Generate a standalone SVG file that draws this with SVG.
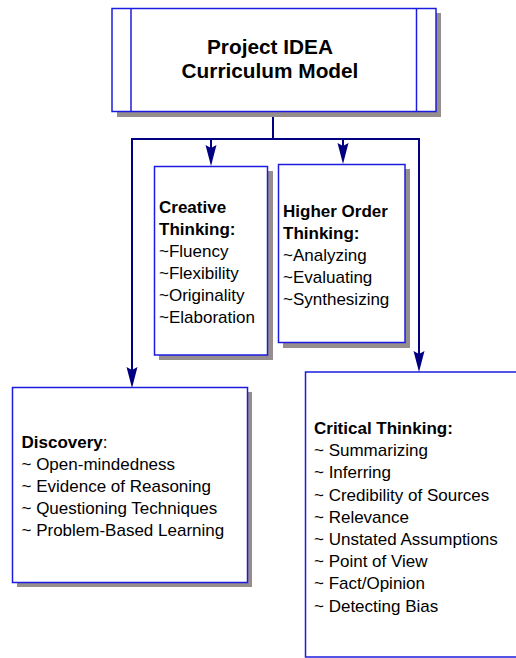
<svg xmlns="http://www.w3.org/2000/svg" width="516" height="658" viewBox="0 0 516 658">
<style>
.box{fill:#ffffff;stroke:#1c1ce0;stroke-width:1.5}
.shadow{fill:#968d8d}
.conn{fill:none;stroke:#000080;stroke-width:2}
.t{font-family:"Liberation Sans",Arial,sans-serif;font-size:17px;fill:#000}
.b{font-weight:bold}
.title{font-family:"Liberation Sans",Arial,sans-serif;font-size:20.8px;font-weight:bold;fill:#000}
</style>
<defs>
<path id="ah" d="M0,0 L-5.5,-21 L0,-18 L5.5,-21 Z" fill="#000080"/>
</defs>
<rect width="516" height="658" fill="#ffffff"/>
<g id="connectors">
<path class="conn" d="M273,112 V139"/>
<path class="conn" d="M132,380 V139 H419 V365"/>
<path class="conn" d="M211,139 V160"/>
<path class="conn" d="M343,139 V158"/>
<use href="#ah" x="211" y="166"/>
<use href="#ah" x="343" y="164"/>
<use href="#ah" x="132" y="388"/>
<use href="#ah" x="419" y="372"/>
</g>
<g id="top">
<rect class="shadow" x="117" y="13" width="324" height="104"/>
<rect class="box" x="112" y="8.5" width="324" height="103"/>
<line x1="131" y1="8.5" x2="131" y2="111.5" stroke="#1c1ce0" stroke-width="1.5"/>
<line x1="416.5" y1="8.5" x2="416.5" y2="111.5" stroke="#1c1ce0" stroke-width="1.5"/>
<text class="title" x="270" y="54" text-anchor="middle">Project IDEA</text>
<text class="title" x="270" y="78" text-anchor="middle">Curriculum Model</text>
</g>
<g id="creative">
<rect class="shadow" x="159" y="171" width="114" height="189"/>
<rect class="box" x="154.5" y="166.5" width="113" height="188.5"/>
<text class="t" x="159" y="213"><tspan class="b">Creative</tspan><tspan x="159" dy="22" class="b">Thinking:</tspan><tspan x="159" dy="22">~Fluency</tspan><tspan x="159" dy="22">~Flexibility</tspan><tspan x="159" dy="22">~Originality</tspan><tspan x="159" dy="22">~Elaboration</tspan></text>
</g>
<g id="higher">
<rect class="shadow" x="283" y="169" width="127" height="179"/>
<rect class="box" x="278.5" y="164.5" width="126.5" height="178"/>
<text class="t" x="283" y="217"><tspan class="b">Higher Order</tspan><tspan x="283" dy="22" class="b">Thinking:</tspan><tspan x="283" dy="22">~Analyzing</tspan><tspan x="283" dy="22">~Evaluating</tspan><tspan x="283" dy="22">~Synthesizing</tspan></text>
</g>
<g id="discovery">
<rect class="shadow" x="17" y="392" width="235" height="195"/>
<rect class="box" x="12.5" y="387.5" width="235" height="195"/>
<text class="t" x="21.5" y="448"><tspan class="b">Discovery</tspan><tspan>:</tspan><tspan x="21.5" dy="22">~ Open-mindedness</tspan><tspan x="21.5" dy="22">~ Evidence of Reasoning</tspan><tspan x="21.5" dy="22">~ Questioning Techniques</tspan><tspan x="21.5" dy="22">~ Problem-Based Learning</tspan></text>
</g>
<g id="critical">
<rect class="box" x="305.5" y="372" width="230" height="285"/>
<text class="t" x="314" y="434"><tspan class="b">Critical Thinking:</tspan><tspan x="314" dy="22.2">~ Summarizing</tspan><tspan x="314" dy="22.2">~ Inferring</tspan><tspan x="314" dy="22.2">~ Credibility of Sources</tspan><tspan x="314" dy="22.2">~ Relevance</tspan><tspan x="314" dy="22.2">~ Unstated Assumptions</tspan><tspan x="314" dy="22.2">~ Point of View</tspan><tspan x="314" dy="22.2">~ Fact/Opinion</tspan><tspan x="314" dy="22.2">~ Detecting Bias</tspan></text>
</g>
</svg>
